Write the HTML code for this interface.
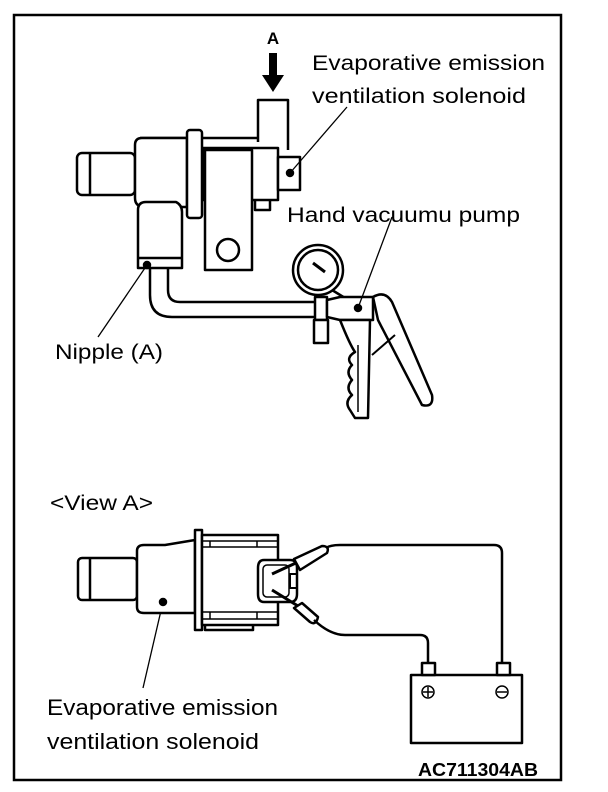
<!DOCTYPE html>
<html><head><style>
html,body{margin:0;padding:0;background:#fff;}
svg{display:block;}
text{font-family:"Liberation Sans",Arial,sans-serif;fill:#000;}
</style></head><body>
<svg width="608" height="792" viewBox="0 0 608 792" xmlns="http://www.w3.org/2000/svg">
<rect x="0" y="0" width="608" height="792" fill="#fff"/>
<rect x="14" y="15" width="547" height="765" fill="none" stroke="#000" stroke-width="2.5"/>

<g fill="none" stroke="#000" stroke-width="2.5" stroke-linejoin="round">
<text x="273" y="44" font-size="17" font-weight="bold" text-anchor="middle" stroke="none">A</text>
<rect x="269" y="53" width="8" height="24" fill="#000" stroke="none"/>
<polygon points="262,75 284,75 273,92" fill="#000" stroke="none"/>

<path d="M258,142 V100 H288 V150"/>
<path d="M140,138 H258"/>
<rect x="77" y="153" width="58" height="42" rx="5" fill="#fff"/>
<line x1="90" y1="154" x2="90" y2="194"/>
<path d="M135,145 Q135,138 142,138 L187,138 L187,207 L145,207 Q135,207 135,198 Z" fill="#fff"/>
<rect x="187" y="130" width="15" height="88" rx="3" fill="#fff"/>
<rect x="203" y="148" width="75" height="52" fill="#fff"/>
<path d="M255,200 V210 H270 V200"/>
<rect x="205" y="150" width="47" height="120" fill="#fff"/>
<circle cx="228" cy="250" r="11"/>
<rect x="278" y="157" width="22" height="33" fill="#fff"/>
<circle cx="290" cy="173" r="3" fill="#000"/>
<path d="M138,268 V210 Q138,202 146,202 L176,202 Q182,205 182,212 V268 Z" fill="#fff"/>
<line x1="138" y1="258" x2="182" y2="258"/>
<circle cx="147" cy="265" r="3" fill="#000"/>
<path d="M150,268 V295 Q150,317 172,317 H317"/>
<path d="M168,268 V290 Q168,302 180,302 H317"/>
<circle cx="318" cy="270" r="25" fill="#fff"/>
<circle cx="318" cy="270" r="20"/>
<path d="M313,263 L325,272" stroke-width="3"/>
<path d="M332,290 L345,298"/>
<rect x="315" y="297" width="12" height="23" fill="#fff"/>
<rect x="314" y="320" width="14" height="23" fill="#fff"/>
<path d="M327,300 L340,297 H373 V320 H340 L327,317 Z" fill="#fff"/>
<circle cx="358" cy="308" r="3" fill="#000"/>
<path d="M373,297 Q385,290 392,302 L432,395 Q434,408 422,405 L378,320 Z" fill="#fff"/>
<line x1="372" y1="355" x2="395" y2="335" stroke-width="2"/>
<path d="M340,320 Q350,345 355,352 Q345,358 352,365 Q345,372 352,380 Q345,388 352,395 Q344,402 350,410 L355,418 H368 L370,320 Z" fill="#fff"/>
<path d="M358,345 V412" stroke-width="1.5"/>
</g>

<g stroke="#000" stroke-width="1.3">
<line x1="290" y1="173" x2="347" y2="107"/>
<line x1="147" y1="265" x2="98" y2="337"/>
<line x1="358" y1="308" x2="392" y2="217"/>
<line x1="163" y1="602" x2="143" y2="688"/>
</g>

<text x="312" y="70" font-size="21" textLength="233" lengthAdjust="spacingAndGlyphs">Evaporative emission</text>
<text x="312" y="103" font-size="21" textLength="214" lengthAdjust="spacingAndGlyphs">ventilation solenoid</text>
<text x="287" y="222" font-size="21" textLength="233" lengthAdjust="spacingAndGlyphs">Hand vacuumu pump</text>
<text x="55" y="359" font-size="21" textLength="108" lengthAdjust="spacingAndGlyphs">Nipple (A)</text>
<text x="50" y="510" font-size="21" textLength="103" lengthAdjust="spacingAndGlyphs">&lt;View A&gt;</text>
<text x="47" y="715" font-size="22" textLength="231" lengthAdjust="spacingAndGlyphs">Evaporative emission</text>
<text x="47" y="749" font-size="22" textLength="212" lengthAdjust="spacingAndGlyphs">ventilation solenoid</text>
<text x="418" y="776" font-size="18" font-weight="bold" textLength="120" lengthAdjust="spacingAndGlyphs">AC711304AB</text>

<g fill="none" stroke="#000" stroke-width="2.5" stroke-linejoin="round">
<rect x="78" y="558" width="59" height="42" rx="4" fill="#fff"/>
<line x1="90" y1="559" x2="90" y2="599"/>
<path d="M137,551 Q137,545 144,545 L165,545 L195,540 V613 H144 Q137,613 137,607 Z" fill="#fff"/>
<circle cx="163" cy="602" r="3" fill="#000"/>
<rect x="195" y="530" width="7" height="100" fill="#fff"/>
<rect x="202" y="535" width="76" height="90" fill="#fff"/>
<line x1="202" y1="541" x2="278" y2="541" stroke-width="1.5"/>
<line x1="202" y1="547" x2="278" y2="547" stroke-width="1.5"/>
<line x1="202" y1="612" x2="278" y2="612" stroke-width="1.5"/>
<line x1="202" y1="619" x2="278" y2="619" stroke-width="1.5"/>
<line x1="210" y1="541" x2="210" y2="547" stroke-width="1.5"/>
<line x1="257" y1="541" x2="257" y2="547" stroke-width="1.5"/>
<line x1="210" y1="612" x2="210" y2="619" stroke-width="1.5"/>
<line x1="257" y1="612" x2="257" y2="619" stroke-width="1.5"/>
<path d="M205,625 V630 H253 V625"/>
<path d="M264,560 H290 Q297,560 297,568 V594 Q297,602 290,602 H264 Q258,602 258,594 V568 Q258,560 264,560 Z" fill="#fff"/>
<rect x="263" y="565" width="26" height="32" rx="4" stroke-width="1.5"/>
<rect x="290" y="574" width="7" height="14" stroke-width="2"/>
<path d="M272,574 L298,562" stroke-width="3"/>
<path d="M294,559 L322,546 Q330,546 327,553 L300,570 Z" fill="#fff"/>
<path d="M272,590 L298,606" stroke-width="3"/>
<path d="M294,608 L310,622 Q316,626 318,617 L302,603 Z" fill="#fff"/>
<path d="M326,548 Q330,545 340,545 H494 Q502,545 502,553 V663"/>
<path d="M314,620 Q330,635 345,635 H420 Q428,635 428,643 V663"/>
<rect x="411" y="675" width="111" height="68" fill="#fff"/>
<rect x="422" y="663" width="13" height="12" fill="#fff"/>
<rect x="497" y="663" width="13" height="12" fill="#fff"/>
<circle cx="428" cy="692" r="6" stroke-width="1.5"/>
<path d="M423,692 H433 M428,687 V697" stroke-width="1.5"/>
<circle cx="502" cy="692" r="6" stroke-width="1.5"/>
<path d="M497,692 H507" stroke-width="1.5"/>
</g>
</svg>
</body></html>
